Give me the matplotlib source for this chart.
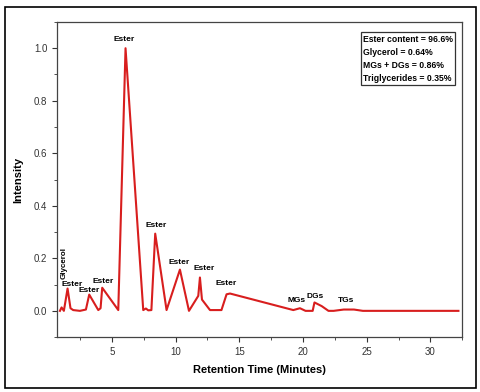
import matplotlib
matplotlib.use("Agg")
import matplotlib.pyplot as plt
from matplotlib.patches import Rectangle
from matplotlib.ticker import MultipleLocator

plt.rcParams['font.family'] = ['Liberation Sans', 'DejaVu Sans']

# retention time (min) and normalised intensity
time = [0.92, 1.05, 1.23, 1.52, 1.75, 1.96, 2.49, 2.96, 3.22, 3.93, 4.11, 4.24,
        5.5, 6.07, 7.46, 7.67, 7.85, 8.1, 8.4, 9.29, 10.34, 11.05, 11.78, 11.91,
        12.07, 12.7, 13.6, 14.0, 14.27, 19.24, 19.76, 20.2, 20.76, 20.9, 21.47,
        22.0, 22.4, 23.2, 24.0, 24.7, 32.2]
intensity = [0.0, 0.013, 0.0, 0.085, 0.01, 0.003, 0.0, 0.005, 0.062, 0.003, 0.01, 0.088,
             0.003, 1.0, 0.003, 0.009, 0.002, 0.003, 0.294, 0.003, 0.157, 0.0, 0.057, 0.127,
             0.043, 0.003, 0.003, 0.063, 0.066, 0.003, 0.01, 0.0, 0.0, 0.032, 0.018,
             0.0, 0.0, 0.005, 0.005, 0.0, 0.0]

# peak annotations: label, x, y
peak_labels = ["Ester", "Ester", "Ester", "Ester", "Ester", "Ester", "Ester", "Ester",
               "MGs", "DGs", "TGs"]
peak_x = [1.88, 3.22, 4.29, 5.99, 8.5, 10.26, 12.2, 14.0, 19.53, 20.97, 23.38]
peak_y = [0.100, 0.076, 0.113, 1.033, 0.324, 0.185, 0.162, 0.105, 0.038, 0.056, 0.041]

summary = ["Ester content = 96.6%", "Glycerol = 0.64%",
           "MGs + DGs = 0.86%", "Triglycerides = 0.35%"]

fig = plt.figure(figsize=(4.8, 3.92), dpi=100)
ax = fig.add_axes([0.119, 0.140, 0.844, 0.804])

ax.plot(time, intensity, color='#d81e1e', lw=1.5)

for lab, x, y in zip(peak_labels, peak_x, peak_y):
    ax.text(x, y, lab, ha='center', va='center', fontsize=6, fontweight='bold')
ax.text(1.27, 0.123, "Glycerol", rotation=90, ha='center', va='bottom',
        fontsize=5.8, fontweight='bold')

ax.text(0.755, 0.96, "\n".join(summary), transform=ax.transAxes, ha='left', va='top',
        fontsize=6.2, fontweight='bold', linespacing=1.6,
        bbox=dict(boxstyle='square,pad=0.25', fc='white', ec='#333333', lw=0.9))

ax.set_xlim(0.7, 32.5)
ax.set_ylim(-0.1, 1.1)
ax.xaxis.set_major_locator(MultipleLocator(5))
ax.xaxis.set_minor_locator(MultipleLocator(2.5))
ax.yaxis.set_major_locator(MultipleLocator(0.2))
ax.yaxis.set_minor_locator(MultipleLocator(0.1))
ax.yaxis.set_major_formatter(matplotlib.ticker.FormatStrFormatter('%.1f'))
ax.tick_params(which='both', direction='out', labelsize=7, colors='#333333')
ax.tick_params(which='major', length=3.5)
ax.tick_params(which='minor', length=2)
for s in ax.spines.values():
    s.set_color('#444444')
    s.set_linewidth(0.9)

ax.set_xlabel("Retention Time (Minutes)", fontsize=8, fontweight='bold', labelpad=6)
ax.set_ylabel("Intensity", fontsize=8, fontweight='bold', labelpad=8)

fig.patches.append(Rectangle((0.011, 0.011), 0.98, 0.97, transform=fig.transFigure,
                             fill=False, ec='black', lw=1.2))

fig.savefig("out.png", dpi=100)
